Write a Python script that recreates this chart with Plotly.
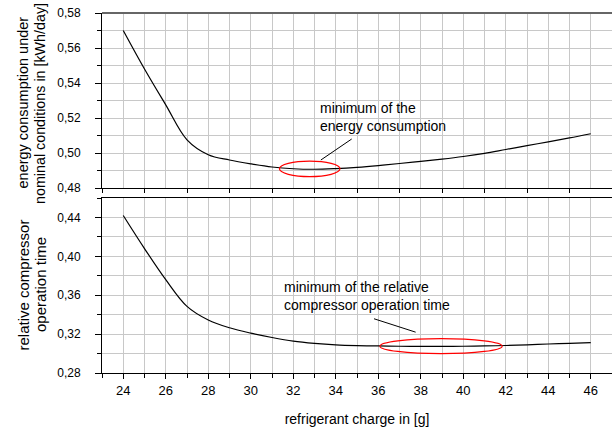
import plotly.graph_objects as go

# ---------------- data ----------------
charge = list(range(24, 47))
energy = [0.570, 0.548, 0.5275, 0.5075, 0.4990, 0.4960, 0.4938, 0.4920, 0.4910, 0.4907,
          0.4911, 0.4918, 0.4928, 0.4940, 0.4952, 0.4965, 0.4980, 0.4998, 0.5020,
          0.5042, 0.5064, 0.5086, 0.5110]
comp_time = [0.442, 0.408, 0.376, 0.3485, 0.3345, 0.3265, 0.3210, 0.3165, 0.3128, 0.3105,
             0.3090, 0.3082, 0.3078, 0.3075, 0.3074, 0.3074, 0.3075, 0.3078, 0.3083,
             0.3090, 0.3098, 0.3105, 0.3112]

top_ticks = [0.48, 0.50, 0.52, 0.54, 0.56, 0.58]
bot_ticks = [0.28, 0.32, 0.36, 0.40, 0.44]
x_ticks = list(range(24, 47, 2))

# annotation content (minimum regions, in data units)
energy_min_x = (31.35, 34.2)
energy_min_y = (0.4865, 0.4954)
comp_min_x = (36.08, 41.83)
comp_min_y = (0.2999, 0.3153)
energy_pointer = ([33.30, 34.75], [0.4960, 0.5080])
comp_pointer = ([35.80, 37.76], [0.3358, 0.3220])
energy_label = "minimum of the<br>energy consumption"
comp_label = "minimum of the relative<br>compressor operation time"

FONT = "Liberation Sans, Arial, sans-serif"
GRID = "#c8c8c8"

fig = go.Figure()
fig.add_trace(go.Scatter(x=charge, y=energy, mode="lines", xaxis="x2", yaxis="y2",
                         line=dict(color="black", width=1.2, shape="spline", smoothing=1.0),
                         showlegend=False))
fig.add_trace(go.Scatter(x=charge, y=comp_time, mode="lines", xaxis="x", yaxis="y",
                         line=dict(color="black", width=1.2, shape="spline", smoothing=1.0),
                         showlegend=False))

xrange = [23, 47]
fig.update_layout(
    width=612, height=427,
    margin=dict(l=102, r=0, t=13, b=54),
    paper_bgcolor="white", plot_bgcolor="white",
    separators=", ",
    font=dict(family=FONT, size=12, color="black"),
    xaxis=dict(domain=[0, 1], anchor="y", range=xrange, tickvals=x_ticks,
               ticks="outside", ticklen=5, tickwidth=1, tickcolor="black",
               tickfont=dict(size=13), showline=True, linecolor="black", linewidth=1,
               mirror=True, showgrid=True, gridcolor=GRID, gridwidth=1, zeroline=False,
               minor=dict(dtick=1, tick0=23, ticks="outside", ticklen=4, tickcolor="black",
                          showgrid=True, gridcolor=GRID, gridwidth=1),
               title=dict(text="refrigerant charge in [g]", font=dict(size=14), standoff=20),
               automargin=False),
    yaxis=dict(domain=[0, 0.4861], anchor="x", range=[0.28, 0.46], tickvals=bot_ticks,
               tickformat=".2f", ticks="outside", ticklen=6, tickcolor="black",
               tickfont=dict(size=12), ticklabelstandoff=12,
               showline=True, linecolor="black", linewidth=1,
               showgrid=True, gridcolor=GRID, zeroline=False,
               minor=dict(dtick=0.02, tick0=0.28, ticks="outside", ticklen=4, tickcolor="black",
                          showgrid=True, gridcolor=GRID),
               automargin=False),
    xaxis2=dict(domain=[0, 1], anchor="y2", range=xrange, matches="x",
                tick0=25, dtick=2, showticklabels=False,
                ticks="outside", ticklen=4, tickcolor="black",
                showline=True, linecolor="black", linewidth=1,
                showgrid=True, gridcolor=GRID, zeroline=False,
                minor=dict(dtick=1, tick0=24, ticks="", showgrid=True, gridcolor=GRID),
                automargin=False),
    yaxis2=dict(domain=[0.5139, 1], anchor="x2", range=[0.48, 0.58], tickvals=top_ticks,
                tickformat=".2f", ticks="outside", ticklen=6, tickcolor="black",
                tickfont=dict(size=12), ticklabelstandoff=12,
                showline=True, linecolor="black", linewidth=1,
                showgrid=True, gridcolor=GRID, zeroline=False,
                minor=dict(dtick=0.01, tick0=0.48, ticks="outside", ticklen=4, tickcolor="black",
                           showgrid=True, gridcolor=GRID),
                automargin=False),
)

shapes = [
    dict(type="line", xref="paper", yref="paper", x0=0, x1=1, y0=1, y1=1,
         line=dict(color="#666666", width=2)),
    dict(type="circle", xref="x2", yref="y2", x0=energy_min_x[0], x1=energy_min_x[1],
         y0=energy_min_y[0], y1=energy_min_y[1], line=dict(color="red", width=1.2)),
    dict(type="circle", xref="x", yref="y", x0=comp_min_x[0], x1=comp_min_x[1],
         y0=comp_min_y[0], y1=comp_min_y[1], line=dict(color="red", width=1.2)),
    dict(type="line", xref="x2", yref="y2", x0=energy_pointer[0][0], x1=energy_pointer[0][1],
         y0=energy_pointer[1][0], y1=energy_pointer[1][1], line=dict(color="black", width=1)),
    dict(type="line", xref="x", yref="y", x0=comp_pointer[0][0], x1=comp_pointer[0][1],
         y0=comp_pointer[1][0], y1=comp_pointer[1][1], line=dict(color="black", width=1)),
]
fig.update_layout(shapes=shapes)

W = 510.0
H = 360.0
def px_x(p):
    return (p - 102) / W
def px_y(p):
    return (427 - 54 - p) / H

annotations = [
    dict(text=energy_label, xref="x2", yref="y2", x=33.17, y=0.5206, xanchor="left",
         yanchor="middle", align="left", showarrow=False, font=dict(size=14)),
    dict(text=comp_label, xref="x", yref="y", x=31.49, y=0.3597, xanchor="left",
         yanchor="middle", align="left", showarrow=False, font=dict(size=14)),
    dict(text="energy consumption under", xref="paper", yref="paper", x=px_x(22.5), y=px_y(103),
         textangle=-90, showarrow=False, font=dict(size=14.5), xanchor="center", yanchor="middle"),
    dict(text="nominal conditions in [kWh/day]", xref="paper", yref="paper", x=px_x(40), y=px_y(104),
         textangle=-90, showarrow=False, font=dict(size=14.3), xanchor="center", yanchor="middle"),
    dict(text="relative compressor", xref="paper", yref="paper", x=px_x(22.5), y=px_y(285),
         textangle=-90, showarrow=False, font=dict(size=15), xanchor="center", yanchor="middle"),
    dict(text="operation time", xref="paper", yref="paper", x=px_x(40), y=px_y(285),
         textangle=-90, showarrow=False, font=dict(size=15), xanchor="center", yanchor="middle"),
]
fig.update_layout(annotations=annotations)

fig.write_html("out.html")
